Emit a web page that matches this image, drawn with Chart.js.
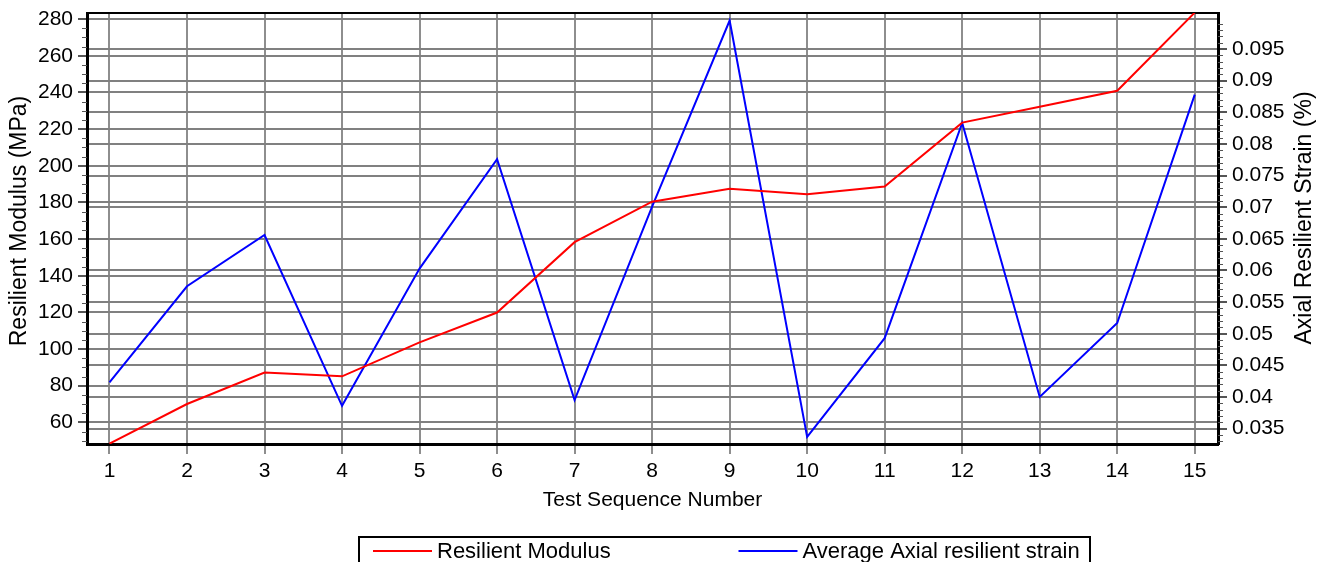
<!DOCTYPE html>
<html>
<head>
<meta charset="utf-8">
<script src="https://cdn.jsdelivr.net/npm/chart.js@4.4.1/dist/chart.umd.min.js"></script>
<style>
  html, body { margin: 0; padding: 0; background: #fff; overflow: hidden; }
  #wrap { width: 1327px; height: 562px; position: relative; }
</style>
</head>
<body>
<div id="wrap"><canvas id="c" width="1327" height="562"></canvas></div>
<script>
// Test sequences and measured results
const testSequence = [1, 2, 3, 4, 5, 6, 7, 8, 9, 10, 11, 12, 13, 14, 15];
const resilientModulus = [48.4, 70.0, 87.2, 85.1, 103.6, 119.9, 158.3, 180.4, 187.4, 184.5, 188.6, 223.5, 232.2, 240.9, 283.5];
const axialStrain = [0.0423, 0.0575, 0.0656, 0.0386, 0.0603, 0.0776, 0.0395, 0.0701, 0.0995, 0.0337, 0.0493, 0.0833, 0.0400, 0.0517, 0.0878];

// Axis ticks
const modulusTicks = [60, 80, 100, 120, 140, 160, 180, 200, 220, 240, 260, 280];
const strainTicks = [0.035, 0.04, 0.045, 0.05, 0.055, 0.06, 0.065, 0.07, 0.075, 0.08, 0.085, 0.09, 0.095];
const modulusMinorStep = 5;
const strainMinorStep = 0.001;

const xTitle = 'Test Sequence Number';
const yTitle = 'Resilient Modulus (MPa)';
const y2Title = 'Axial Resilient Strain (%)';

const FONT = "'Liberation Sans', Arial, Helvetica, sans-serif";
Chart.defaults.font.family = FONT;
Chart.defaults.color = '#000';

// Outline, minor ticks, rotated axis titles and the boxed legend
const decorations = {
  id: 'decorations',
  beforeDatasetsDraw(chart) {
    const { ctx, chartArea: a } = chart;
    ctx.save();
    ctx.strokeStyle = '#000';
    ctx.lineWidth = 2;
    ctx.beginPath();
    ctx.moveTo(a.left, a.top);
    ctx.lineTo(a.right, a.top);
    ctx.stroke();
    ctx.restore();
  },
  afterDraw(chart) {
    const { ctx, chartArea: a, scales } = chart;
    ctx.save();
    // minor ticks
    ctx.strokeStyle = '#555';
    ctx.lineWidth = 1;
    const y = scales.y, y2 = scales.y2;
    ctx.beginPath();
    for (let v = Math.ceil(y.min / modulusMinorStep) * modulusMinorStep; v <= y.max; v += modulusMinorStep) {
      if (v % 20 === 0) continue;
      const py = Math.round(y.getPixelForValue(v)) + 0.5;
      ctx.moveTo(a.left - 5, py);
      ctx.lineTo(a.left, py);
    }
    const n0 = Math.ceil(y2.min / strainMinorStep), n1 = Math.floor(y2.max / strainMinorStep);
    for (let n = n0; n <= n1; n++) {
      if (n % 5 === 0) continue;
      const py = Math.round(y2.getPixelForValue(n * strainMinorStep)) + 0.5;
      ctx.moveTo(a.right, py);
      ctx.lineTo(a.right + 5, py);
    }
    ctx.stroke();

    // vertical axis titles (both read bottom to top)
    ctx.fillStyle = '#000';
    ctx.font = '23px ' + FONT;
    ctx.textAlign = 'center';
    ctx.textBaseline = 'middle';
    ctx.save();
    ctx.translate(20, 221);
    ctx.rotate(-Math.PI / 2);
    ctx.fillText(yTitle, 0, 0);
    ctx.restore();
    ctx.save();
    ctx.translate(1305, 218);
    ctx.rotate(-Math.PI / 2);
    ctx.fillText(y2Title, 0, 0);
    ctx.restore();

    // legend box
    const box = { left: 359, top: 537, width: 731, height: 40 };
    ctx.strokeStyle = '#000';
    ctx.lineWidth = 2;
    ctx.strokeRect(box.left, box.top, box.width, box.height);
    const colW = box.width / 2;
    ctx.font = '22px ' + FONT;
    ctx.textAlign = 'left';
    chart.data.datasets.forEach((ds, i) => {
      const x0 = box.left + 14 + i * colW;
      const ly = 551;
      ctx.strokeStyle = ds.borderColor;
      ctx.lineWidth = 2;
      ctx.beginPath();
      ctx.moveTo(x0, ly);
      ctx.lineTo(x0 + 59, ly);
      ctx.stroke();
      ctx.fillStyle = '#000';
      ctx.fillText(ds.label, x0 + 64, ly + 1);
    });
    ctx.restore();
  }
};

const toPoints = (ys) => testSequence.map((x, i) => ({ x, y: ys[i] }));
const fmt = (v) => String(+Number(v).toFixed(4));
const noEdgePadding = (s) => { s.paddingTop = 0; s.paddingBottom = 0; s.paddingLeft = 0; s.paddingRight = 0; };

new Chart(document.getElementById('c'), {
  type: 'line',
  data: {
    datasets: [
      {
        label: 'Resilient Modulus',
        data: toPoints(resilientModulus),
        borderColor: '#ff0000',
        borderWidth: 2,
        pointRadius: 0,
        tension: 0,
        yAxisID: 'y'
      },
      {
        label: 'Average Axial resilient strain',
        data: toPoints(axialStrain),
        borderColor: '#0000ff',
        borderWidth: 2,
        pointRadius: 0,
        tension: 0,
        yAxisID: 'y2'
      }
    ]
  },
  options: {
    responsive: false,
    animation: false,
    devicePixelRatio: 1,
    layout: { padding: { top: 13, left: 0, right: 0, bottom: 0 } },
    plugins: { legend: { display: false }, tooltip: { enabled: false } },
    scales: {
      x: {
        type: 'linear',
        min: 0.71,
        max: 15.3,
        afterBuildTicks: (s) => { s.ticks = testSequence.map(v => ({ value: v })); },
        afterFit: (s) => { s.height = 118; noEdgePadding(s); },
        grid: { color: '#8e8e8e', lineWidth: 2, tickColor: '#8e8e8e', tickLength: 10 },
        border: { color: '#000', width: 3 },
        ticks: { font: { size: 21 }, padding: 5, color: '#000', maxRotation: 0, autoSkip: false, callback: fmt },
        title: { display: true, text: xTitle, font: { size: 21 }, color: '#000', padding: { top: 0, bottom: 49 } }
      },
      y: {
        position: 'left',
        min: 48.2,
        max: 283.3,
        afterBuildTicks: (s) => { s.ticks = modulusTicks.map(v => ({ value: v })); },
        afterFit: (s) => { s.width = 87; noEdgePadding(s); },
        grid: { color: '#808080', lineWidth: 2, tickColor: '#555', tickLength: 9 },
        border: { color: '#000', width: 3 },
        ticks: { font: { size: 21 }, padding: 5, color: '#000', callback: fmt }
      },
      y2: {
        position: 'right',
        min: 0.03257,
        max: 0.10069,
        afterBuildTicks: (s) => { s.ticks = strainTicks.map(v => ({ value: v })); },
        afterFit: (s) => { s.width = 109; noEdgePadding(s); },
        grid: { color: '#808080', lineWidth: 2, tickColor: '#555', tickLength: 9 },
        border: { color: '#000', width: 3 },
        ticks: { font: { size: 21 }, padding: 5, color: '#000', callback: fmt }
      }
    }
  },
  plugins: [decorations]
});
</script>
</body>
</html>
